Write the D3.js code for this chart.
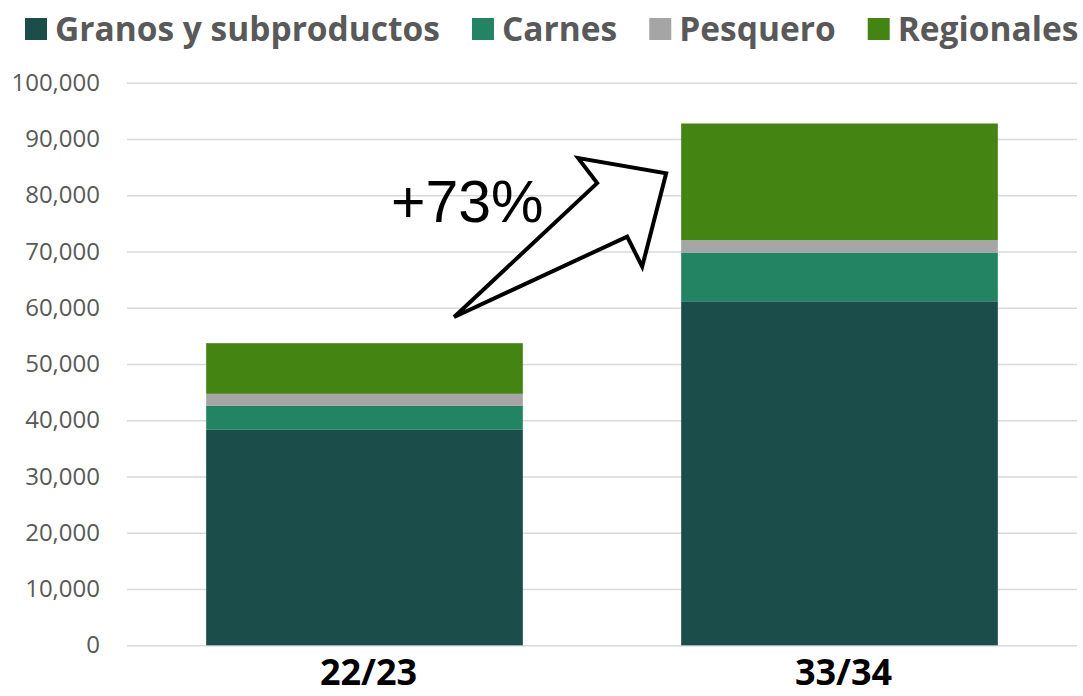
<!DOCTYPE html>
<html>
<head>
<meta charset="utf-8">
<script src="https://cdn.jsdelivr.net/npm/d3@7"></script>
<style>
  body { margin: 0; background: #ffffff; }
  svg { display: block; }
  .tick-label { font-family: "Open Sans", sans-serif; font-size: 24px; fill: #595959; }
  .legend-text { font-family: "Open Sans", sans-serif; font-size: 33.5px; font-weight: bold; fill: #595959; }
  .cat-label { font-family: "Open Sans", sans-serif; font-size: 36px; font-weight: bold; fill: #000000; }
  .note { font-family: "Liberation Sans", Arial, sans-serif; font-size: 59px; fill: #000000; }
</style>
</head>
<body>
<script>
// datos del grafico
var categories = ["22/23", "33/34"];
var seriesNames = ["Granos y subproductos", "Carnes", "Pesquero", "Regionales"];
var granos = [38300, 61150];
var carnes = [4250, 8650];
var pesquero = [2150, 2200];
var regionales = [9000, 20750];
var yTicks = [0, 10000, 20000, 30000, 40000, 50000, 60000, 70000, 80000, 90000, 100000];
var colors = ["#1b4d4a", "#238463", "#a5a5a5", "#438412"];

window.onload = function() {
  main();
};

function main() {
  var width = 1083;
  var height = 696;
  var plot = {left: 127, right: 1077, top: 82.7, bottom: 645.3};

  var svg = d3.select("body")
              .append("svg")
              .attr("width", width)
              .attr("height", height);

  var xScale = d3.scaleBand()
                 .domain(categories)
                 .range([plot.left, plot.right])
                 .paddingInner(1/3)
                 .paddingOuter(1/6);
  var yScale = d3.scaleLinear()
                 .domain([0, 100000])
                 .range([plot.bottom, plot.top]);

  // gridlines + tick labels
  var yAxis = d3.axisLeft(yScale)
                .tickValues(yTicks)
                .tickSize(-(plot.right - plot.left))
                .tickPadding(27)
                .tickFormat(d3.format(","));

  var axisG = svg.append("g")
                 .attr("transform", "translate(" + plot.left + ",0)")
                 .call(yAxis);
  axisG.select(".domain").remove();
  axisG.selectAll(".tick line")
       .attr("stroke", "#d9d9d9")
       .attr("stroke-width", 1.5);
  axisG.selectAll(".tick text")
       .attr("class", "tick-label")
       .attr("font-family", null)
       .attr("font-size", null)
       .attr("fill", null);

  // stacked bars
  var table = categories.map(function(c, i) {
    return {cat: c, granos: granos[i], carnes: carnes[i], pesquero: pesquero[i], regionales: regionales[i]};
  });
  var stack = d3.stack().keys(["granos", "carnes", "pesquero", "regionales"]);
  var layers = stack(table);

  svg.selectAll(".layer")
     .data(layers)
     .enter()
     .append("g")
     .attr("class", "layer")
     .attr("fill", function(d, i) { return colors[i]; })
     .selectAll("rect")
     .data(function(d) { return d; })
     .enter()
     .append("rect")
     .attr("x", function(d) { return xScale(d.data.cat); })
     .attr("width", xScale.bandwidth())
     .attr("y", function(d) { return yScale(d[1]); })
     .attr("height", function(d) { return yScale(d[0]) - yScale(d[1]); });

  // category labels
  svg.selectAll(".cat-label")
     .data(categories)
     .enter()
     .append("text")
     .attr("class", "cat-label")
     .attr("text-anchor", "middle")
     .attr("x", function(d) { return xScale(d) + xScale.bandwidth() / 2 + 4; })
     .attr("y", 685)
     .text(function(d) { return d; });

  // legend
  var lx = 25;
  seriesNames.forEach(function(name, i) {
    svg.append("rect")
       .attr("x", lx)
       .attr("y", 18)
       .attr("width", 22)
       .attr("height", 22)
       .attr("fill", colors[i]);
    var t = svg.append("text")
               .attr("class", "legend-text")
               .attr("x", lx + 30)
               .attr("y", 41)
               .text(name);
    lx = lx + 30 + t.node().getComputedTextLength() + 32;
  });

  // flecha de crecimiento
  var x0 = xScale(categories[0]);
  var arrowPts = [
    [x0 + 248, 58350],
    [x0 + 391, 82150],
    [x0 + 372, 86600],
    [x0 + 460, 83900],
    [x0 + 436, 67300],
    [x0 + 421, 72650]
  ];
  svg.append("polygon")
     .attr("points", arrowPts.map(function(p) { return p[0] + "," + yScale(p[1]); }).join(" "))
     .attr("fill", "#ffffff")
     .attr("stroke", "#000000")
     .attr("stroke-width", 4)
     .attr("stroke-linejoin", "miter");

  var growth = Math.round((d3.sum(layers, function(l) { return l[1][1] - l[1][0]; }) /
                           d3.sum(layers, function(l) { return l[0][1] - l[0][0]; }) - 1) * 100);
  svg.append("text")
     .attr("class", "note")
     .attr("x", 391)
     .attr("y", 222)
     .text("+" + growth + "%");
}
</script>
</body>
</html>
